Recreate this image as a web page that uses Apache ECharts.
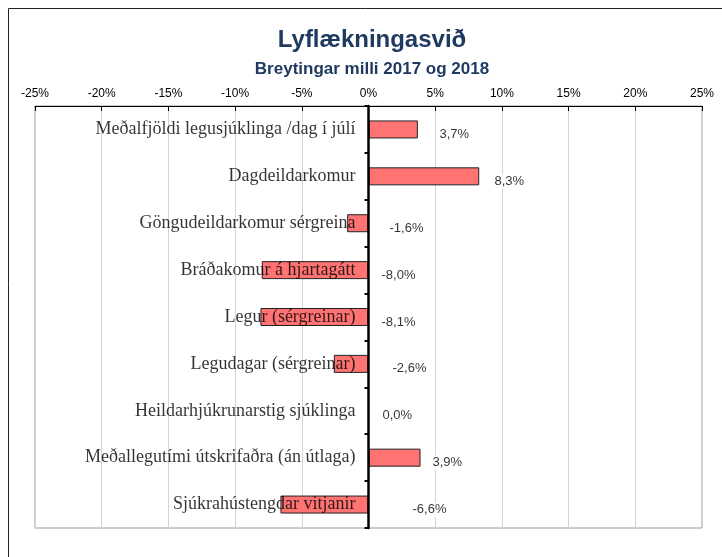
<!DOCTYPE html>
<html>
<head>
<meta charset="utf-8">
<script src="https://cdn.jsdelivr.net/npm/echarts@6/dist/echarts.min.js"></script>
<style>
  html, body { margin: 0; padding: 0; background: #fff; }
  #chart { width: 722px; height: 557px; }
</style>
</head>
<body>
<div id="chart"></div>
<script>
var chartDom = document.getElementById('chart');
var myChart = echarts.init(chartDom);

const categories = [
  'Meðalfjöldi legusjúklinga /dag í júlí',
  'Dagdeildarkomur',
  'Göngudeildarkomur sérgreina',
  'Bráðakomur á hjartagátt',
  'Legur (sérgreinar)',
  'Legudagar (sérgreinar)',
  'Heildarhjúkrunarstig sjúklinga',
  'Meðallegutími útskrifaðra (án útlaga)',
  'Sjúkrahústengdar vitjanir'
];
const changes = [3.7, 8.3, -1.6, -8.0, -8.1, -2.6, 0.0, 3.9, -6.6];

// where Excel left each value label, px to the right of the zero line
const labelShift = [70, 125, 20, 12, 12, 23, 13, 63, 43];

const navy = '#1F3A60';

function pct(v) {
  return v.toFixed(1).replace('.', ',') + '%';
}

// one anchor per category on the zero line, used for the text around it
const anchors = categories.map(function (c, i) { return [0, i]; });

var option = {
  animation: false,
  title: [
    {
      text: 'Lyflækningasvið',
      left: 367, top: 23, textAlign: 'center',
      textStyle: { fontFamily: 'Liberation Sans', fontSize: 24, fontWeight: 'bold', color: navy }
    },
    {
      text: 'Breytingar milli 2017 og 2018',
      left: 367, top: 56, textAlign: 'center',
      textStyle: { fontFamily: 'Liberation Sans', fontSize: 17, fontWeight: 'bold', color: navy }
    }
  ],
  graphic: [{
    type: 'rect',
    shape: { x: 8.5, y: 8.5, width: 760, height: 600 },
    style: { fill: 'none', stroke: '#222', lineWidth: 1 },
    silent: true
  }],
  grid: {
    left: 35, right: 20, top: 106, bottom: 29,
    containLabel: false,
    outerBoundsMode: 'none',
    show: true, borderColor: '#999', borderWidth: 1
  },
  xAxis: {
    type: 'value',
    position: 'top',
    min: -25, max: 25, interval: 5,
    axisLine: { show: true, lineStyle: { color: '#000', width: 1 } },
    axisTick: { show: true, inside: true, length: 5, lineStyle: { color: '#000' } },
    axisLabel: {
      formatter: '{value}%', color: '#000', margin: 6,
      fontFamily: 'Liberation Sans', fontSize: 12
    },
    splitLine: { show: true, lineStyle: { color: '#d4d4d4', width: 1 } }
  },
  yAxis: {
    type: 'category',
    data: categories,
    inverse: true,
    z: 10,
    axisLine: { onZero: true, lineStyle: { color: '#000', width: 2.5 } },
    axisTick: { show: true, length: 4, lineStyle: { color: '#000', width: 2 } },
    axisLabel: { show: false }
  },
  series: [
    {
      type: 'bar',
      data: changes,
      barWidth: 18,
      itemStyle: { color: '#FF7373', borderColor: '#222', borderWidth: 1 },
      z: 2
    },
    {
      // category names, written across the zero line like in Excel
      type: 'scatter',
      data: anchors,
      symbolSize: 0,
      z: 11,
      silent: true,
      label: {
        show: true,
        position: 'left',
        distance: 13,
        formatter: function (p) { return categories[p.dataIndex]; },
        fontFamily: 'Liberation Serif', fontSize: 18, color: '#000'
      }
    },
    {
      type: 'scatter',
      data: anchors,
      symbolSize: 0,
      z: 12,
      silent: true,
      label: {
        show: true,
        position: 'right',
        distance: 0,
        formatter: function (p) { return pct(changes[p.dataIndex]); },
        fontFamily: 'Liberation Sans', fontSize: 13, color: '#000',
        backgroundColor: '#fff', padding: [1, 1]
      },
      labelLayout: function (p) {
        return { dx: labelShift[p.dataIndex], dy: 5 };
      }
    }
  ]
};

option && myChart.setOption(option);
</script>
</body>
</html>
